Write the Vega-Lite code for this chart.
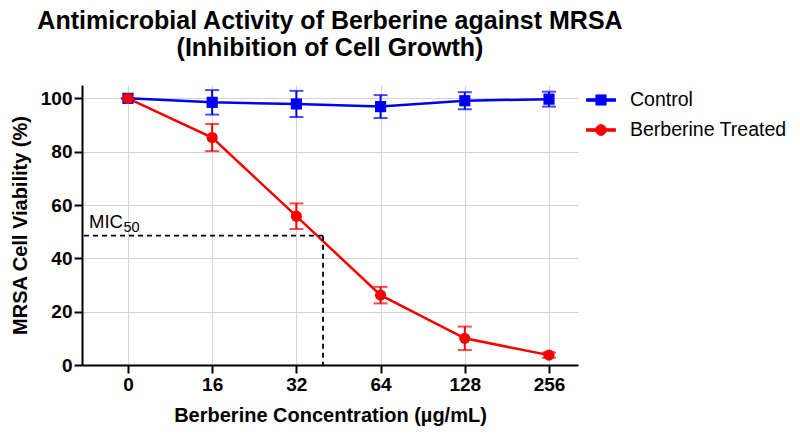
{
  "$schema": "https://vega.github.io/schema/vega-lite/v6.json",
  "background": "white",
  "padding": {"left": 10, "top": 9, "right": 5, "bottom": 5},
  "width": 496,
  "height": 280,
  "title": {
    "text": ["Antimicrobial Activity of Berberine against MRSA", "(Inhibition of Cell Growth)"],
    "font": "Liberation Sans",
    "fontSize": 25,
    "fontWeight": "bold",
    "color": "black",
    "anchor": "middle",
    "lineHeight": 27,
    "offset": 24
  },
  "datasets": {
    "viability": [
      {"group": "Control", "conc": 0, "viability": 100, "sd": 0},
      {"group": "Control", "conc": 16, "viability": 98.5, "sd": 4.6},
      {"group": "Control", "conc": 32, "viability": 97.9, "sd": 4.9},
      {"group": "Control", "conc": 64, "viability": 96.9, "sd": 4.3},
      {"group": "Control", "conc": 128, "viability": 99.1, "sd": 3.2},
      {"group": "Control", "conc": 256, "viability": 99.7, "sd": 2.8},
      {"group": "Berberine Treated", "conc": 0, "viability": 100, "sd": 0},
      {"group": "Berberine Treated", "conc": 16, "viability": 85.3, "sd": 5.1},
      {"group": "Berberine Treated", "conc": 32, "viability": 55.8, "sd": 4.8},
      {"group": "Berberine Treated", "conc": 64, "viability": 26.2, "sd": 3.1},
      {"group": "Berberine Treated", "conc": 128, "viability": 10.0, "sd": 4.4},
      {"group": "Berberine Treated", "conc": 256, "viability": 3.7, "sd": 1.0}
    ],
    "mic": [
      {"mic_pos": 2.316, "mic_pct": 48.5}
    ]
  },
  "layer": [
    {
      "data": {"name": "viability"},
      "encoding": {
        "x": {
          "field": "conc",
          "type": "ordinal",
          "scale": {"type": "point", "domain": [0, 16, 32, 64, 128, 256], "padding": 0.445, "align": 0.613},
          "axis": {
            "title": "Berberine Concentration (µg/mL)",
            "labelAngle": 0,
            "grid": true,
            "tickSize": 8,
            "labelPadding": 2,
            "titlePadding": 11
          }
        },
        "y": {
          "field": "viability",
          "type": "quantitative",
          "scale": {"domain": [0, 105], "nice": false},
          "axis": {
            "title": "MRSA Cell Viability (%)",
            "values": [0, 20, 40, 60, 80, 100],
            "grid": true,
            "tickSize": 8,
            "labelPadding": 2,
            "titlePadding": 10
          }
        },
        "color": {
          "field": "group",
          "type": "nominal",
          "scale": {"domain": ["Control", "Berberine Treated"], "range": ["#0000f0", "#f50000"]},
          "legend": {
            "title": null,
            "orient": "right",
            "offset": 8,
            "padding": 0,
            "labelFont": "Liberation Sans",
            "labelFontSize": 19.5,
            "labelColor": "black",
            "symbolSize": 841,
            "symbolStrokeWidth": 1,
            "symbolOpacity": 1,
            "labelOffset": 14,
            "rowPadding": 5
          }
        }
      },
      "layer": [
        {"mark": {"type": "line", "strokeWidth": 2.5}},
        {
          "mark": {"type": "errorbar", "thickness": 2, "ticks": {"size": 14, "thickness": 2}},
          "encoding": {"yError": {"field": "sd"}}
        },
        {
          "transform": [{"filter": "datum.group === 'Control'"}],
          "mark": {"type": "point", "shape": "square", "filled": true, "opacity": 1, "size": 125}
        },
        {
          "transform": [{"filter": "datum.group === 'Berberine Treated'"}],
          "mark": {"type": "point", "shape": "circle", "filled": true, "opacity": 1, "size": 125}
        },
        {
          "transform": [{"filter": "false"}],
          "mark": {"type": "point", "filled": true, "opacity": 1},
          "encoding": {
            "shape": {
              "field": "group",
              "type": "nominal",
              "scale": {
                "domain": ["Control", "Berberine Treated"],
                "range": [
                  "M-1,-0.086H1V0.086H-1Z M-0.35,-0.35H0.35V0.35H-0.35Z",
                  "M-1,-0.086H1V0.086H-1Z M0.37,0A0.37,0.37 0 1,1 -0.37,0A0.37,0.37 0 1,1 0.37,0Z"
                ]
              },
              "legend": null
            }
          }
        }
      ]
    },
    {
      "data": {"name": "mic"},
      "layer": [
        {
          "mark": {"type": "rule", "color": "black", "strokeWidth": 1.8, "strokeDash": [5, 4]},
          "encoding": {
            "x": {"field": "mic_pos", "type": "quantitative", "scale": {"domain": [-0.5463, 5.344], "nice": false, "zero": false}, "axis": null},
            "x2": {"datum": -0.5463},
            "y": {"field": "mic_pct", "type": "quantitative", "title": "MRSA Cell Viability (%)"}
          }
        },
        {
          "mark": {"type": "rule", "color": "black", "strokeWidth": 1.8, "strokeDash": [5, 4]},
          "encoding": {
            "x": {"field": "mic_pos", "type": "quantitative", "axis": null},
            "y": {"field": "mic_pct", "type": "quantitative", "title": "MRSA Cell Viability (%)"},
            "y2": {"datum": 0}
          }
        },
        {
          "mark": {"type": "text", "text": "MIC", "align": "left", "baseline": "alphabetic", "fontSize": 18.5, "font": "Liberation Sans", "color": "black"},
          "encoding": {
            "x": {"datum": -0.463, "type": "quantitative", "axis": null},
            "y": {"datum": 51.3, "type": "quantitative", "title": "MRSA Cell Viability (%)"}
          }
        },
        {
          "mark": {"type": "text", "text": "50", "align": "left", "baseline": "alphabetic", "fontSize": 14.5, "font": "Liberation Sans", "color": "black"},
          "encoding": {
            "x": {"datum": -0.053, "type": "quantitative", "axis": null},
            "y": {"datum": 50.0, "type": "quantitative", "title": "MRSA Cell Viability (%)"}
          }
        }
      ]
    }
  ],
  "resolve": {"scale": {"x": "independent"}},
  "config": {
    "view": {"stroke": null},
    "font": "Liberation Sans",
    "axis": {
      "labelFont": "Liberation Sans",
      "labelFontSize": 19,
      "labelFontWeight": "bold",
      "labelColor": "black",
      "titleFont": "Liberation Sans",
      "titleFontSize": 20,
      "titleFontWeight": "bold",
      "titleColor": "black",
      "tickColor": "black",
      "tickWidth": 2,
      "domainColor": "black",
      "domainWidth": 2,
      "gridColor": "#d4d4d4",
      "gridWidth": 1
    }
  }
}
